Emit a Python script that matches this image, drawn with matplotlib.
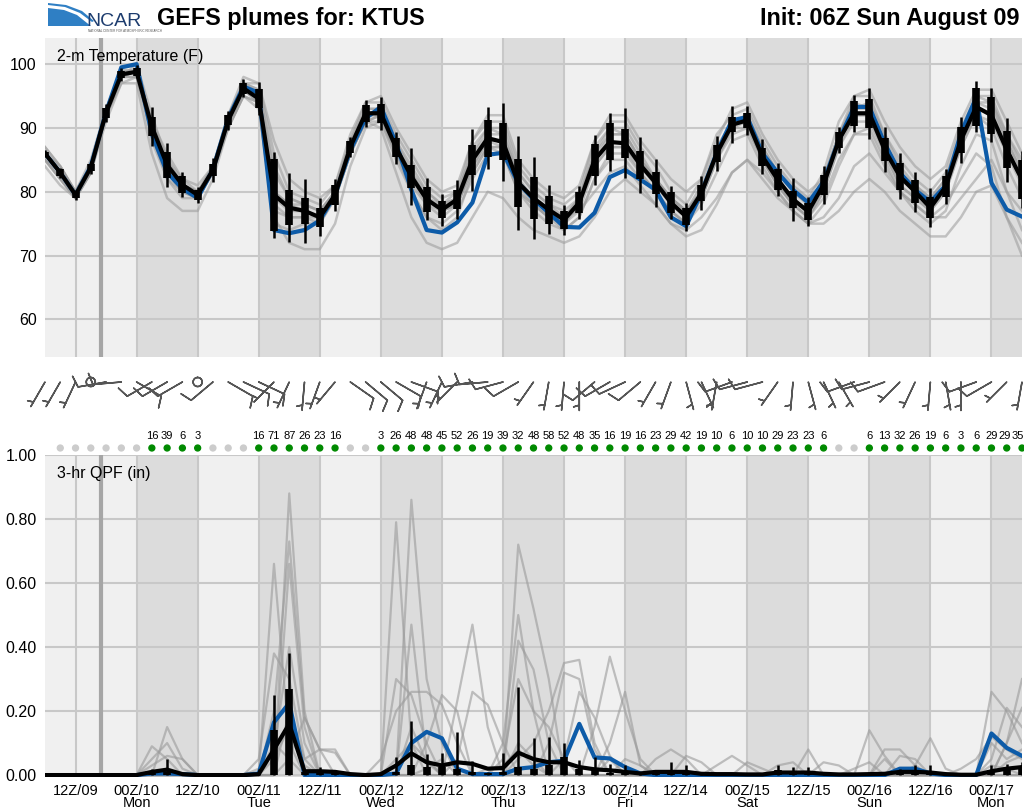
import matplotlib
matplotlib.use('Agg')
import matplotlib.pyplot as plt
import numpy as np
from matplotlib.patches import Polygon

plt.rcParams['font.family'] = ['Liberation Sans', 'DejaVu Sans']

# forecast hours from init (06Z Sun Aug 09), 3-hourly
hours = np.arange(0, 195, 3)

xtick_hours = list(range(6, 192, 12))
xtick_labels = ['12Z/09', '00Z/10\nMon', '12Z/10', '00Z/11\nTue', '12Z/11', '00Z/12\nWed',
                '12Z/12', '00Z/13\nThu', '12Z/13', '00Z/14\nFri', '12Z/14', '00Z/15\nSat',
                '12Z/15', '00Z/16\nSun', '12Z/16', '00Z/17\nMon']

# ---- 2-m temperature (F) ----
t_mean = [86, 83, 79.5, 83.8, 92.4, 98.4, 98.8, 90.2, 84.2, 81.1,
          79.5, 83.4, 91.2, 96.2, 94.6, 79.5, 77.5, 77, 76, 79.5,
          87, 92.3, 92.3, 86.9, 82.4, 78.8, 77.2, 78.8, 85, 88.4,
          87.8, 81.4, 79, 77.2, 75.6, 78.3, 85, 87.8, 87.6, 84.2,
          81.4, 78.3, 76.1, 79.8, 86, 90.5, 91.2, 85.5, 81.9, 78.8,
          76.9, 81.1, 88.1, 92.3, 92.3, 86.6, 82.4, 80, 77.5, 80.8,
          88.1, 93.3, 92, 86.6, 81.9]
t_ctrl = [86, 83, 79.5, 84, 92.5, 99.5, 100, 89, 83, 80.5,
          79, 83.5, 91.5, 96.5, 95.5, 74, 73.5, 74, 75.5, 79.5,
          86.5, 91.5, 93.3, 87.6, 80.3, 74, 73.6, 75.2, 78.3, 85.8,
          86.1, 81.4, 78.8, 76.7, 74.5, 74.4, 76.7, 82.3, 83.4, 81.9,
          80.3, 76, 74.6, 79.9, 86.1, 91.2, 91.7, 86, 83, 80.3,
          78.3, 81.6, 88.1, 93.3, 93.3, 87.6, 83, 80.3, 78.4, 81,
          89.2, 94.8, 81.4, 77.2, 76.1]
# half heights of the box and the whisker around the mean
t_box = [0.3, 0.5, 0.5, 0.6, 0.8, 0.6, 0.6, 1.5, 2.0, 1.3,
         0.8, 1.0, 0.8, 0.8, 1.5, 5.6, 2.7, 2.0, 1.5, 1.5,
         1.0, 1.3, 1.5, 1.5, 1.8, 2.0, 1.3, 1.5, 2.3, 2.9,
         2.9, 3.8, 3.3, 2.2, 1.4, 1.6, 2.5, 2.9, 2.3, 2.2,
         1.7, 1.6, 1.3, 1.3, 1.4, 1.2, 1.2, 1.4, 1.6, 1.3,
         1.3, 1.6, 1.2, 2.0, 2.3, 1.8, 2.1, 1.8, 1.6, 1.7,
         2.0, 3.0, 2.9, 2.9, 3.0]
t_wsk = [0.6, 0.8, 0.8, 1.0, 1.4, 1.0, 1.0, 3.1, 3.5, 2.0,
         1.3, 1.9, 1.5, 1.4, 2.6, 6.7, 5.4, 5.0, 3.0, 2.5,
         1.6, 2.1, 2.6, 2.5, 4.5, 3.3, 2.5, 3.1, 4.9, 4.9,
         6.1, 7.4, 6.4, 3.8, 2.3, 2.6, 3.9, 4.6, 5.5, 4.4,
         3.8, 2.6, 2.2, 2.6, 2.7, 2.9, 2.3, 2.7, 2.6, 3.4,
         2.2, 3.0, 2.1, 2.9, 4.0, 3.5, 3.6, 3.1, 3.1, 2.7,
         3.6, 4.0, 4.2, 5.0, 4.5]

t_members = [
    [87, 84, 80, 85, 93, 99, 99, 91, 86, 82, 80, 84, 92, 97, 97, 86, 80, 79, 78, 81,
     89, 94, 94, 89, 85, 81, 79, 80, 88, 91, 91, 84, 81, 79, 78, 80, 88, 91, 91, 87,
     84, 80, 78, 82, 89, 92, 93, 88, 84, 81, 79, 83, 91, 95, 95, 89, 85, 82, 80, 83,
     90, 95, 94, 89, 84],
    [86, 83, 79, 84, 93, 98, 100, 92, 85, 82, 81, 84, 91, 97, 96, 83, 79, 78, 77, 80,
     88, 93, 93, 88, 84, 80, 78, 80, 86, 90, 90, 83, 80, 78, 77, 79, 86, 90, 90, 86,
     82, 79, 77, 81, 87, 91, 92, 87, 83, 80, 78, 82, 89, 94, 93, 88, 83, 81, 79, 82,
     89, 94, 93, 88, 83],
    [85, 82, 79, 83, 92, 97, 98, 89, 83, 80, 79, 83, 90, 95, 94, 77, 76, 76, 75, 79,
     86, 91, 91, 86, 81, 78, 76, 78, 84, 87, 87, 80, 78, 76, 75, 77, 84, 87, 87, 83,
     80, 77, 75, 79, 85, 89, 90, 85, 81, 78, 76, 80, 87, 91, 91, 86, 81, 79, 77, 80,
     87, 92, 91, 86, 81],
    [85, 83, 80, 84, 92, 99, 99, 88, 82, 80, 79, 83, 91, 96, 94, 75, 74, 75, 75, 79,
     86, 91, 92, 86, 80, 76, 75, 77, 82, 86, 86, 80, 78, 76, 74, 76, 82, 85, 85, 82,
     80, 77, 75, 79, 85, 90, 90, 85, 81, 78, 76, 80, 87, 92, 92, 86, 81, 79, 77, 80,
     87, 92, 90, 84, 79],
    [87, 84, 80, 84, 93, 98, 99, 91, 85, 81, 80, 84, 92, 98, 97, 88, 82, 80, 79, 81,
     88, 94, 95, 90, 86, 82, 80, 81, 88, 92, 92, 85, 82, 80, 79, 81, 88, 92, 92, 88,
     85, 82, 80, 82, 88, 93, 94, 89, 85, 82, 80, 82, 89, 95, 96, 91, 87, 84, 82, 84,
     91, 96, 96, 91, 86],
    [84, 81, 79, 83, 91, 97, 97, 86, 79, 77, 77, 82, 90, 95, 93, 76, 72, 71, 71, 75,
     84, 90, 91, 85, 80, 76, 74, 76, 83, 87, 87, 81, 79, 77, 75, 78, 85, 89, 89, 85,
     82, 79, 77, 80, 86, 91, 91, 86, 82, 79, 77, 81, 88, 92, 92, 87, 82, 80, 78, 81,
     88, 93, 92, 87, 82],
    [86, 83, 79, 84, 92, 98, 98, 90, 84, 81, 80, 83, 91, 96, 95, 80, 78, 77, 76, 79,
     86, 91, 90, 83, 76, 72, 71, 72, 76, 80, 79, 76, 74, 73, 72, 73, 76, 80, 82, 80,
     78, 75, 73, 74, 78, 83, 85, 82, 79, 77, 75, 76, 79, 84, 86, 83, 80, 78, 76, 76,
     79, 82, 85, 80, 77],
    [85, 82, 79, 83, 92, 98, 99, 90, 83, 80, 79, 83, 91, 96, 94, 78, 76, 76, 76, 79,
     86, 92, 92, 87, 82, 79, 77, 78, 84, 88, 88, 82, 79, 77, 76, 77, 80, 83, 84, 81,
     78, 75, 74, 76, 79, 83, 85, 83, 80, 77, 75, 75, 77, 80, 82, 80, 77, 75, 73, 73,
     76, 80, 81, 76, 72],
    [86, 83, 80, 84, 92, 98, 99, 90, 84, 81, 80, 83, 91, 96, 95, 80, 78, 78, 77, 80,
     87, 92, 93, 87, 83, 79, 78, 79, 86, 89, 89, 82, 79, 77, 76, 79, 86, 89, 89, 85,
     82, 79, 77, 80, 86, 91, 92, 87, 83, 80, 78, 82, 89, 93, 94, 89, 84, 81, 79, 82,
     89, 95, 95, 89, 85],
    [86, 84, 80, 84, 93, 98, 99, 90, 84, 81, 80, 83, 91, 96, 95, 79, 77, 77, 76, 79,
     87, 92, 92, 86, 82, 78, 77, 78, 84, 88, 87, 81, 78, 76, 75, 78, 84, 87, 87, 84,
     81, 78, 76, 79, 85, 90, 91, 85, 81, 78, 76, 79, 85, 89, 90, 85, 80, 78, 76, 78,
     82, 86, 84, 76, 70],
    [86, 83, 80, 84, 92, 98, 99, 89, 82, 79, 79, 83, 91, 97, 96, 84, 79, 78, 77, 80,
     87, 93, 93, 88, 83, 80, 78, 79, 87, 90, 89, 83, 80, 78, 76, 79, 87, 90, 89, 85,
     82, 79, 77, 80, 86, 91, 92, 86, 82, 79, 77, 81, 88, 93, 93, 88, 83, 80, 78, 81,
     89, 94, 94, 88, 83],
    [85, 82, 79, 83, 92, 98, 98, 90, 84, 81, 80, 83, 90, 95, 94, 80, 77, 77, 76, 79,
     86, 91, 92, 86, 82, 79, 77, 78, 83, 87, 86, 80, 77, 75, 74, 76, 82, 86, 86, 83,
     80, 77, 75, 78, 83, 88, 89, 84, 80, 77, 75, 78, 84, 89, 89, 84, 80, 77, 75, 77,
     84, 89, 88, 80, 74],
]

# ---- 3-hr QPF (in) ----
q_mean = [0, 0, 0, 0, 0, 0, 0, 0.01, 0.017, 0.003,
          0, 0, 0, 0, 0.003, 0.08, 0.16, 0.012, 0.012, 0.01,
          0.003, 0, 0.003, 0.03, 0.068, 0.04, 0.03, 0.04, 0.035, 0.02,
          0.022, 0.07, 0.05, 0.04, 0.04, 0.025, 0.018, 0.015, 0.01, 0.005,
          0.01, 0.01, 0.01, 0.004, 0.003, 0.003, 0.002, 0.002, 0.008, 0.008,
          0.008, 0.004, 0.002, 0.002, 0.003, 0.004, 0.01, 0.01, 0.008, 0.003,
          0.001, 0.001, 0.012, 0.02, 0.025]
q_ctrl = [0, 0, 0, 0, 0, 0, 0, 0.005, 0.005, 0.003,
          0, 0, 0, 0, 0.005, 0.165, 0.225, 0, 0, 0,
          0, 0, 0, 0.005, 0.10, 0.135, 0.115, 0.02, 0.003, 0.003,
          0.003, 0.02, 0.025, 0.04, 0.045, 0.16, 0.055, 0.052, 0.025, 0.005,
          0, 0, 0, 0, 0, 0, 0, 0, 0, 0,
          0, 0, 0, 0, 0, 0, 0.02, 0.02, 0.005, 0,
          0, 0, 0.13, 0.085, 0.06]
q_box = [0, 0, 0, 0, 0, 0, 0, 0.005, 0.01, 0,
         0, 0, 0, 0, 0, 0.14, 0.27, 0.01, 0.005, 0.005,
         0, 0, 0, 0.01, 0.03, 0.025, 0.025, 0.02, 0.01, 0.005,
         0.01, 0.025, 0.02, 0.03, 0.055, 0.02, 0.02, 0.005, 0.005, 0,
         0.003, 0.015, 0.01, 0, 0, 0, 0, 0, 0.015, 0.01,
         0.01, 0, 0, 0, 0, 0, 0.01, 0.015, 0.01, 0,
         0, 0, 0.015, 0.02, 0.025]
q_wsk = [0, 0, 0, 0, 0, 0, 0, 0.02, 0.05, 0.005,
         0, 0, 0, 0, 0.02, 0.25, 0.38, 0.015, 0.025, 0.015,
         0, 0, 0.005, 0.055, 0.17, 0.065, 0.07, 0.135, 0.045, 0.01,
         0.07, 0.275, 0.115, 0.12, 0.1, 0.047, 0.055, 0.035, 0.03, 0.01,
         0.01, 0.04, 0.03, 0.01, 0.005, 0.005, 0.005, 0.005, 0.03, 0.025,
         0.025, 0.003, 0.003, 0.003, 0.003, 0.003, 0.02, 0.03, 0.03, 0.003,
         0, 0, 0.03, 0.035, 0.04]

q_members = [
    [0, 0, 0, 0, 0, 0, 0, 0.09, 0.05, 0, 0, 0, 0, 0, 0, 0.66, 0.1, 0, 0, 0,
     0, 0, 0, 0.79, 0.1, 0, 0, 0, 0, 0, 0, 0.72, 0.52, 0.3, 0, 0, 0, 0.05, 0, 0,
     0, 0, 0, 0, 0, 0, 0, 0, 0, 0, 0, 0, 0, 0, 0, 0.05, 0, 0, 0, 0,
     0, 0, 0.26, 0.2, 0.1],
    [0, 0, 0, 0, 0, 0, 0, 0, 0.15, 0.05, 0, 0, 0, 0, 0, 0, 0.88, 0.2, 0, 0,
     0, 0, 0, 0, 0.86, 0.3, 0.1, 0, 0, 0, 0.1, 0.5, 0.2, 0, 0, 0, 0.15, 0.37, 0.2, 0.05,
     0, 0, 0, 0, 0, 0, 0, 0, 0, 0, 0.08, 0, 0, 0, 0, 0, 0, 0, 0, 0,
     0, 0, 0, 0.1, 0.3],
    [0, 0, 0, 0, 0, 0, 0, 0.03, 0.06, 0.05, 0, 0, 0, 0, 0, 0.2, 0.73, 0.18, 0.08, 0,
     0, 0, 0, 0, 0.47, 0.05, 0, 0.23, 0.47, 0.15, 0, 0, 0, 0.1, 0.32, 0.3, 0.08, 0, 0, 0,
     0, 0, 0, 0, 0.03, 0.06, 0.03, 0, 0, 0, 0, 0, 0, 0, 0.14, 0.06, 0, 0, 0, 0,
     0, 0, 0, 0.1, 0.21],
    [0, 0, 0, 0, 0, 0, 0, 0, 0, 0, 0, 0, 0, 0, 0, 0, 0.66, 0.15, 0, 0,
     0, 0, 0.05, 0.2, 0.26, 0.26, 0.22, 0.1, 0, 0, 0, 0.42, 0.33, 0.1, 0, 0, 0, 0.1, 0.26, 0.03,
     0, 0, 0, 0, 0, 0, 0, 0, 0, 0, 0, 0, 0, 0, 0, 0, 0, 0.03, 0.115, 0.02,
     0, 0, 0.05, 0.21, 0.15],
    [0, 0, 0, 0, 0, 0, 0, 0, 0, 0, 0, 0, 0, 0, 0.05, 0.38, 0.3, 0.05, 0.08, 0.07,
     0, 0, 0, 0, 0, 0.1, 0.25, 0.2, 0, 0, 0.05, 0.3, 0.2, 0.15, 0.05, 0, 0, 0, 0, 0,
     0, 0, 0.06, 0.04, 0, 0, 0, 0, 0, 0, 0, 0.04, 0.03, 0, 0, 0, 0, 0, 0, 0,
     0, 0, 0.1, 0.05, 0.08],
    [0, 0, 0, 0, 0, 0, 0, 0.05, 0.1, 0.02, 0, 0, 0, 0, 0, 0.1, 0.05, 0, 0, 0,
     0, 0, 0, 0.05, 0.1, 0.05, 0, 0, 0, 0, 0, 0, 0, 0, 0.05, 0.26, 0.18, 0.06, 0, 0,
     0, 0, 0, 0, 0, 0, 0.04, 0.02, 0, 0, 0, 0, 0, 0, 0, 0, 0.06, 0.05, 0, 0,
     0, 0, 0, 0.04, 0.06],
    [0, 0, 0, 0, 0, 0, 0, 0, 0.02, 0, 0, 0, 0, 0, 0, 0, 0.2, 0.05, 0, 0,
     0, 0, 0, 0, 0, 0.02, 0.05, 0, 0, 0, 0, 0.1, 0.05, 0, 0, 0, 0, 0, 0, 0,
     0.05, 0.08, 0.05, 0, 0, 0, 0, 0, 0, 0, 0, 0, 0, 0, 0, 0.08, 0.08, 0.03, 0, 0,
     0, 0, 0, 0, 0],
    [0, 0, 0, 0, 0, 0, 0, 0, 0, 0, 0, 0, 0, 0, 0, 0.05, 0.15, 0.03, 0, 0,
     0, 0, 0, 0, 0.15, 0.04, 0, 0, 0, 0.02, 0.03, 0.08, 0.03, 0, 0, 0, 0, 0, 0.05, 0.03,
     0, 0, 0, 0, 0, 0, 0, 0, 0.03, 0.04, 0, 0, 0, 0, 0, 0, 0, 0, 0, 0,
     0.02, 0.05, 0.12, 0.08, 0.05],
    [0, 0, 0, 0, 0, 0, 0, 0, 0, 0, 0, 0, 0, 0, 0, 0, 0.05, 0.18, 0.08, 0.08,
     0, 0, 0, 0, 0, 0, 0, 0.05, 0.26, 0.22, 0.1, 0, 0, 0, 0, 0, 0, 0, 0, 0,
     0, 0, 0, 0, 0, 0, 0, 0, 0, 0, 0, 0, 0, 0.02, 0.04, 0, 0, 0, 0, 0,
     0, 0, 0, 0, 0],
    [0, 0, 0, 0, 0, 0, 0, 0, 0, 0, 0, 0, 0, 0, 0.02, 0.08, 0.4, 0.1, 0, 0,
     0, 0, 0, 0.3, 0.25, 0.1, 0, 0, 0, 0, 0, 0.05, 0.1, 0.2, 0.35, 0.36, 0.1, 0, 0, 0,
     0, 0, 0, 0, 0, 0, 0, 0, 0, 0, 0, 0, 0, 0, 0, 0, 0, 0, 0, 0,
     0, 0, 0.03, 0.02, 0],
]

# probability of precip (%) for each 3-hr period, hours 3..192
pop = [0, 0, 0, 0, 0, 0, 16, 39, 6, 3,
       0, 0, 0, 16, 71, 87, 26, 23, 16, 0,
       0, 3, 26, 48, 48, 45, 52, 26, 19, 39,
       32, 48, 58, 52, 48, 35, 16, 19, 16, 23,
       29, 42, 19, 10, 6, 10, 10, 29, 23, 23,
       6, 0, 0, 6, 13, 32, 26, 19, 6, 3,
       6, 29, 29, 35]

# 10-m wind: direction wind blows from (deg) and speed (kt)
wdir = [210, 210, 205, 0, 260, 265, 120, 240, 240, 240,
        0, 230, 120, 115, 115, 225, 205, 185, 200, 220,
        125, 130, 130, 120, 110, 200, 205, 225, 260, 265,
        255, 240, 215, 190, 185, 180, 230, 240, 245, 230,
        210, 200, 165, 155, 190, 250, 255, 255, 215, 185,
        165, 155, 150, 250, 255, 250, 225, 205, 185, 170,
        180, 250, 240, 225, 190]
wspd = [5, 5, 5, 0, 10, 10, 10, 10, 10, 10,
        0, 10, 10, 10, 10, 5, 5, 5, 5, 5,
        10, 10, 10, 10, 10, 5, 5, 5, 10, 10,
        10, 10, 5, 5, 5, 5, 10, 10, 10, 10,
        5, 5, 5, 5, 5, 10, 10, 10, 5, 5,
        5, 5, 5, 10, 10, 10, 5, 5, 5, 5,
        5, 10, 10, 5, 5]

GRAY_MEMBER = '#9a9a9a'
BLUE = '#0d5ba8'
GRID = '#c8c8c8'

W, H = 1024, 811
fig = plt.figure(figsize=(W / 100, H / 100), dpi=100)


def px_axes(left, top, right, bottom):
    return fig.add_axes([left / W, 1 - bottom / H, (right - left) / W, (bottom - top) / H])


def style_panel(ax):
    ax.set_facecolor('#f0f0f0')
    for start in range(18, 192, 24):
        ax.axvspan(start, start + 12, color='#dcdcdc', lw=0, zorder=0)
    for h in xtick_hours:
        ax.axvline(h, color=GRID, lw=1.5, zorder=0.5)
    ax.axvline(11, color='#a6a6a6', lw=3, zorder=0.6)
    ax.grid(axis='y', color=GRID, lw=1.5)
    ax.set_axisbelow(True)
    for s in ax.spines.values():
        s.set_visible(False)
    ax.tick_params(length=0, labelsize=11.5, pad=6)
    ax.set_xlim(0, 192)
    ax.set_xticks(xtick_hours)


# ---- temperature panel ----
ax_t = px_axes(45, 38, 1022, 357)
style_panel(ax_t)
ax_t.set_ylim(54.1, 104.1)
ax_t.set_yticks([60, 70, 80, 90, 100])
ax_t.set_xticklabels([])
for m in t_members:
    ax_t.plot(hours, m, color=GRAY_MEMBER, alpha=0.55, lw=1.8, zorder=2)
ax_t.plot(hours, t_ctrl, color=BLUE, lw=3, zorder=3)
ax_t.plot(hours, t_mean, color='black', lw=3, zorder=4)
tm, tb, tw = np.array(t_mean), np.array(t_box), np.array(t_wsk)
ax_t.vlines(hours, tm - tw, tm + tw, color='black', lw=1.8, zorder=5)
ax_t.vlines(hours, tm - tb, tm + tb, color='black', lw=5.5, zorder=5)
ax_t.text(0.012, 0.967, '2-m Temperature (F)', transform=ax_t.transAxes,
          va='top', ha='left', fontsize=11.5)

# ---- QPF panel ----
ax_q = px_axes(45, 455, 1022, 777)
style_panel(ax_q)
ax_q.set_ylim(-0.006, 1.0)
ax_q.set_yticks([0, 0.2, 0.4, 0.6, 0.8, 1.0])
ax_q.set_yticklabels(['%.2f' % v for v in [0, 0.2, 0.4, 0.6, 0.8, 1.0]])
ax_q.set_xticklabels(xtick_labels, fontsize=10.5)
ax_q.tick_params(axis='x', pad=5)
for lbl in ax_q.get_xticklabels():
    lbl.set_linespacing(0.82)
for m in q_members:
    ax_q.plot(hours, m, color=GRAY_MEMBER, alpha=0.6, lw=1.6, zorder=2)
ax_q.plot(hours, q_ctrl, color=BLUE, lw=3, zorder=3)
ax_q.plot(hours, q_mean, color='black', lw=3, zorder=4)
ax_q.vlines(hours, 0, q_wsk, color='black', lw=1.8, zorder=5)
ax_q.vlines(hours, 0, q_box, color='black', lw=5.5, zorder=5)
ax_q.text(0.012, 0.967, '3-hr QPF (in)', transform=ax_q.transAxes,
          va='top', ha='left', fontsize=11.5)

# ---- wind barbs and precip probability row ----
ax_w = px_axes(45, 358, 1022, 452)
ax_w.set_xlim(0, 192)
ax_w.set_ylim(0, 94)
ax_w.axis('off')
rad = np.deg2rad(wdir)
u = -np.array(wspd) * np.sin(rad)
v = -np.array(wspd) * np.cos(rad)
ax_w.barbs(hours, np.full(len(hours), 70), u, v, length=6.4, pivot='tip',
           color='#555555', linewidth=1.1, sizes=dict(emptybarb=0.16),
           clip_on=False)
pop_hours = hours[1:]
dot_colors = ['#008a00' if p > 0 else '#cccccc' for p in pop]
ax_w.scatter(pop_hours, np.full(len(pop_hours), 4), s=18, c=dot_colors,
             clip_on=False, zorder=3)
n_pop = len(pop)
for i, (h, p) in enumerate(zip(pop_hours, pop)):
    if p == 0:
        continue
    # squeeze the last two labels so they stay inside the figure edge
    if i == n_pop - 1:
        ax_w.annotate(str(p), (h, 16), xytext=(1.5, 0), textcoords='offset pixels',
                      ha='right', va='center', fontsize=8)
    elif i == n_pop - 2:
        ax_w.annotate(str(p), (h, 16), xytext=(-2, 0), textcoords='offset pixels',
                      ha='center', va='center', fontsize=8)
    else:
        ax_w.text(h, 16, str(p), ha='center', va='center', fontsize=8)

# ---- header ----
ax_logo = px_axes(46, 2, 156, 34)
ax_logo.set_xlim(0, 110)
ax_logo.set_ylim(32, 0)
ax_logo.axis('off')
ax_logo.add_patch(Polygon([(2, 1), (20, 3), (36, 9), (48, 19), (46, 20), (34, 11),
                           (19, 5), (2, 3)], closed=True, color='#2f7fc4', lw=0))
ax_logo.add_patch(Polygon([(2, 6), (18, 8), (31, 13), (41, 21), (45, 24), (2, 24)],
                          closed=True, color='#2f7fc4', lw=0))
ax_logo.text(40, 24, 'NCAR', fontsize=14, color='#1d3c6e', va='baseline', ha='left')
ax_logo.text(42, 29.5, 'NATIONAL CENTER FOR ATMOSPHERIC RESEARCH', fontsize=2.2,
             color='#555555', va='baseline', ha='left')

fig.text(157 / W, 1 - 18 / H, 'GEFS plumes for: KTUS', fontsize=16.8,
         fontweight='bold', va='center', ha='left')
fig.text(1020 / W, 1 - 18 / H, 'Init: 06Z Sun August 09', fontsize=16.8,
         fontweight='bold', va='center', ha='right')

fig.savefig('out.png', dpi=100)
